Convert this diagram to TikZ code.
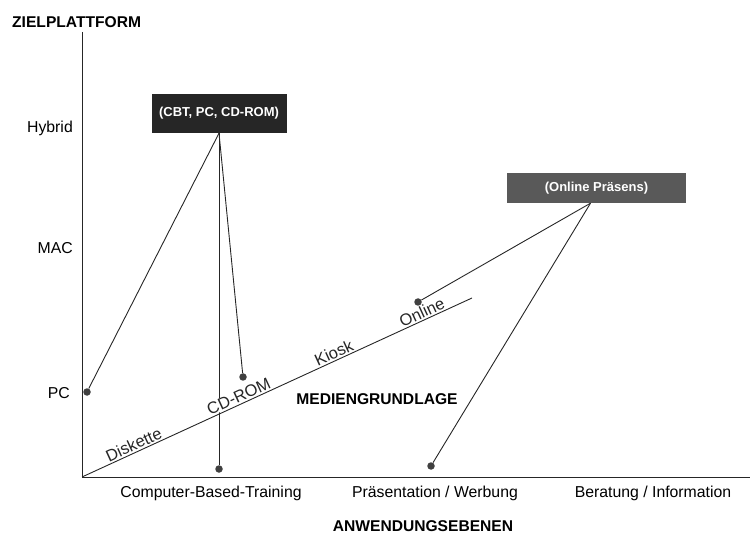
\documentclass[tikz,border=0pt]{standalone}
\usepackage{fontspec}
\setmainfont{Liberation Sans}
\begin{document}
\begin{tikzpicture}[x=1pt, y=1pt,
    lbl/.style={font=\fontsize{15.8}{18}\selectfont, inner sep=1pt},
    slant/.style={font=\fontsize{16.5}{18}\selectfont, inner sep=0.5pt, sloped, above=1pt},
    head/.style={font=\fontsize{15.6}{18}\selectfont\bfseries, inner sep=1pt},
    tag/.style={text=white, font=\fontsize{13}{16}\selectfont\bfseries, inner sep=0pt},
    dot/.style={circle, fill=black!75, inner sep=0pt, minimum size=7.5pt},
    link/.style={black!85, line width=0.9pt}]

    \useasboundingbox (-82,-58) rectangle (669,477);

    % Axes
    \coordinate (o) at (0,0);
    \coordinate (ytop) at (0,445);
    \coordinate (xend) at (668,0);
    \coordinate (zend) at (390,179);
    \draw[link] (ytop) -- (o) -- (xend);

    % Axis titles
    \node[head, anchor=west] (ztitle) at (-71,455) {ZIELPLATTFORM};
    \node[head] (atitle) at (341,-49) {ANWENDUNGSEBENEN};
    \node[head] (mtitle) at (295,78) {MEDIENGRUNDLAGE};

    % Platforms
    \node[lbl, anchor=east] (hybrid) at (-8,349) {Hybrid};
    \node[lbl, anchor=east] (mac) at (-8,229) {MAC};
    \node[lbl, anchor=east] (pc) at (-11,84) {PC};

    % Application levels
    \node[lbl] (cbtlvl) at (129,-16) {Computer-Based-Training};
    \node[lbl] (prlvl) at (353,-16) {Präsentation / Werbung};
    \node[lbl] (belvl) at (571,-16) {Beratung / Information};

    % Boxes
    \node[tag, fill=black!85, minimum width=135pt, minimum height=39pt] (cbt) at (137,363.5) {(CBT, PC, CD-ROM)};
    \node[tag, fill=black!65, minimum width=179pt, minimum height=30pt] (online) at (514.5,289) {(Online Präsens)};
    \coordinate (online-foot) at ([xshift=-6pt]online.south);

    % Points
    \node[dot] (pcdot) at (5,85) {};
    \node[dot] (cbtdot) at (137,8) {};
    \node[dot] (cddot) at (161,100) {};
    \node[dot] (ondot) at (336,175) {};
    \node[dot] (prdot) at (349,11) {};

    % Connections
    \draw[link] (cbt.south) -- (pcdot);
    \draw[link] (cbt.south) -- (cbtdot);
    \draw[link] (cbt.south) -- (cddot);
    \draw[link] (online-foot) -- (ondot);
    \draw[link] (online-foot) -- (prdot);

    % Media axis
    \draw[link] (o) -- (zend)
        node[slant, pos=0.141] (disk) {Diskette}
        node[slant, pos=0.41, fill=white] (cdrom) {CD-ROM}
        node[slant, pos=0.654] (kiosk) {Kiosk}
        node[slant, pos=0.88] (onl) {Online};
\end{tikzpicture}
\end{document}
